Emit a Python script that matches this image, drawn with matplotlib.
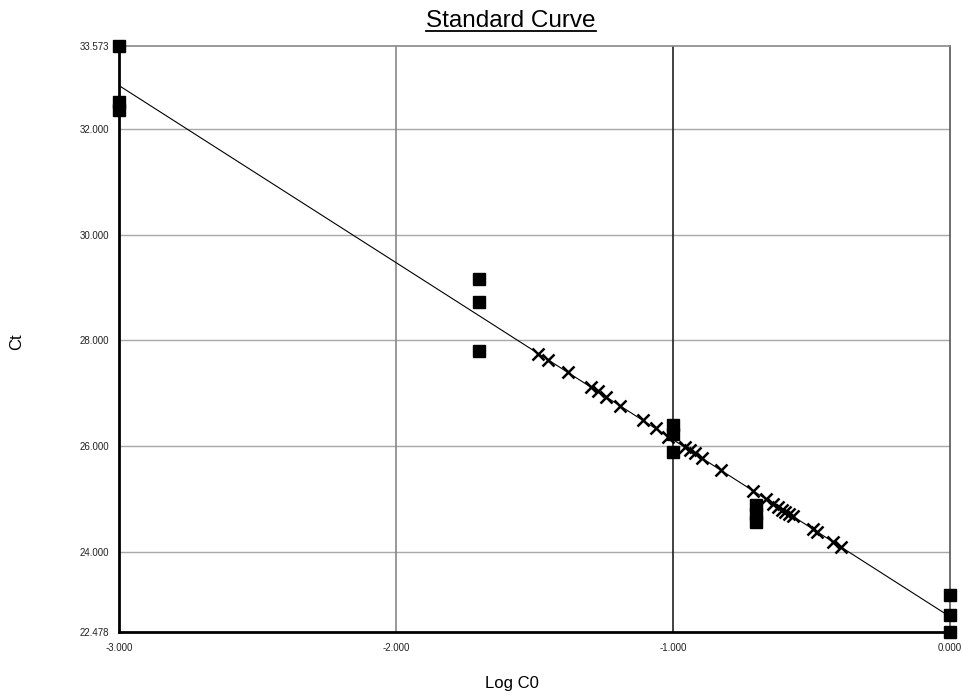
import matplotlib
matplotlib.use('Agg')
import matplotlib.pyplot as plt
from matplotlib.lines import Line2D

plt.rcParams['font.family'] = ['Liberation Sans', 'DejaVu Sans']

# standards: log of the starting quantity and measured Ct (three replicates each)
std_log = [-3.0, -3.0, -3.0,
           -1.699, -1.699, -1.699,
           -1.0, -1.0, -1.0,
           -0.699, -0.699, -0.699,
           0.0, 0.0, 0.0]
std_ct = [33.573, 32.52, 32.36,
          29.16, 28.73, 27.80,
          26.40, 26.23, 25.89,
          24.88, 24.71, 24.57,
          23.17, 22.80, 22.478]

# unknown samples placed on the curve
unk_log = [-1.486, -1.450, -1.380, -1.297, -1.272, -1.242, -1.191, -1.109,
           -1.063, -1.017, -0.957, -0.940, -0.922, -0.896, -0.828, -0.711,
           -0.663, -0.639, -0.621, -0.605, -0.594, -0.582, -0.566, -0.494,
           -0.480, -0.421, -0.393]
unk_ct = [27.749, 27.628, 27.394, 27.115, 27.032, 26.931, 26.760, 26.485,
          26.331, 26.177, 25.976, 25.919, 25.859, 25.771, 25.543, 25.151,
          24.990, 24.910, 24.850, 24.796, 24.759, 24.719, 24.665, 24.424,
          24.377, 24.179, 24.085]

# standard curve  Ct = slope * logC0 + intercept
slope = -3.352
intercept = 22.768
fit_x = [-3.0, 0.0]

x_ticks = [-3.0, -2.0, -1.0, 0.0]
y_ticks = [22.478, 24.0, 26.0, 28.0, 30.0, 32.0, 33.573]

W, H = 963, 695
fig = plt.figure(figsize=(W / 100, H / 100), dpi=100)
ax = fig.add_axes([119 / W, 1 - 632 / H, (950 - 119) / W, (632 - 46) / H])

ax.set_xlim(-3.0, 0.0)
ax.set_ylim(22.478, 33.573)

# grid
for y in y_ticks[1:-1]:
    ax.axhline(y, color='#a8a8a8', lw=1.0, zorder=1)
ax.axvline(-2.0, color='#888888', lw=1.2, zorder=1)
ax.axvline(-1.0, color='#222222', lw=1.2, zorder=1)

ax.spines['top'].set_color('#888888')
ax.spines['top'].set_linewidth(1.2)
ax.spines['right'].set_color('#555555')
ax.spines['right'].set_linewidth(1.2)
ax.spines['left'].set_color('black')
ax.spines['left'].set_linewidth(2)
ax.spines['bottom'].set_color('black')
ax.spines['bottom'].set_linewidth(2)

fit_y = [slope * x + intercept for x in fit_x]
ax.plot(fit_x, fit_y, color='black', lw=0.8, zorder=2)

ax.plot(unk_log, unk_ct, linestyle='none', marker='x', ms=8, mew=1.8,
        color='black', zorder=3)
ax.plot(std_log, std_ct, linestyle='none', marker='s', ms=8.5,
        color='black', zorder=4, clip_on=False)

ax.set_xticks(x_ticks)
ax.set_xticklabels(['%.3f' % v for v in x_ticks])
ax.set_yticks(y_ticks)
ax.set_yticklabels(['%.3f' % v for v in y_ticks])
ax.tick_params(axis='both', length=0, labelsize=7, labelcolor='#222222')
ax.tick_params(axis='y', pad=7)
ax.tick_params(axis='x', pad=8)

title = fig.text(511 / W, 1 - 26.7 / H, 'Standard Curve', fontsize=17.5,
                 ha='center', va='baseline')
fig.text(512 / W, 1 - 688 / H, 'Log C0', fontsize=12, ha='center', va='baseline')
fig.text(17 / W, 1 - 342 / H, 'Ct', fontsize=12, rotation=90,
         ha='center', va='center')

# underline the title
fig.canvas.draw()
bb = title.get_window_extent()
uy = 1 - 30.5 / H
fig.add_artist(Line2D([bb.x0 / W, bb.x1 / W], [uy, uy], color='black', lw=1.3))

fig.savefig('out.png', dpi=100, facecolor='white')
